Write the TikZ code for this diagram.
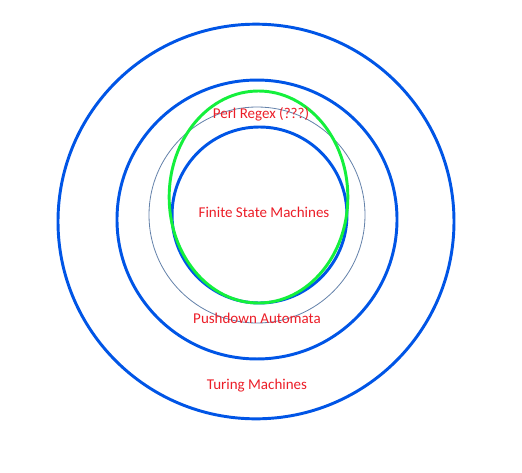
\documentclass[tikz,border=0pt]{standalone}
\usepackage{fontspec}
\setmainfont{Carlito}
\definecolor{ringblue}{RGB}{0,85,230}
\definecolor{ringgreen}{RGB}{20,240,60}
\definecolor{ringgray}{RGB}{100,130,170}
\definecolor{labelred}{RGB}{236,30,40}
\begin{document}
\begin{tikzpicture}[x=0.75pt,y=-0.75pt,
  ring/.style={draw=ringblue,line width=2.2pt},
  greenring/.style={draw=ringgreen,line width=2.2pt},
  thinring/.style={draw=ringgray,line width=0.6pt},
  lbl/.style={text=labelred,font=\fontsize{11.25}{13}\selectfont,inner sep=0pt}]
\useasboundingbox (0,0) rectangle (522,472);
\fill[white] (0,0) rectangle (522,472);
% rings
\draw[ring] (256,221.5) ellipse [x radius=148.5pt, y radius=148pt];
\draw[ring] (257,219.5) ellipse [x radius=105pt, y radius=104.6pt];
\draw[thinring] (257,215) ellipse [x radius=81pt, y radius=81pt];
\draw[ring] (259.5,215) ellipse [x radius=65.6pt, y radius=66pt];
\draw[greenring] (258.5,197) ellipse [x radius=67pt, y radius=79.5pt];
% labels
\node[lbl] (perl) at (261,114) {Perl Regex (???)};
\node[lbl] (fsm) at (264,212) {Finite State Machines};
\node[lbl] (pda) at (257,318) {Pushdown Automata};
\node[lbl] (tm) at (257,386) {Turing Machines};
\end{tikzpicture}
\end{document}
